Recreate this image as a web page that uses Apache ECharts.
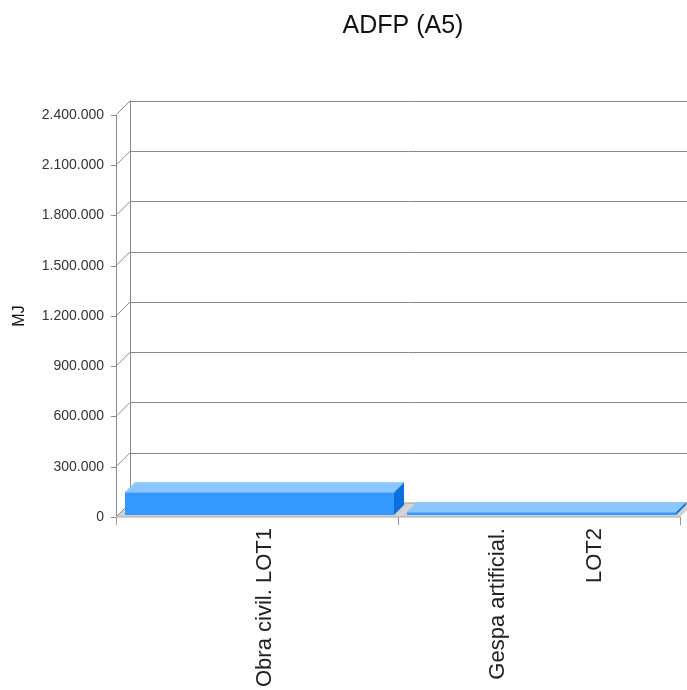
<!DOCTYPE html>
<html>
<head>
<meta charset="utf-8">
<script src="https://cdn.jsdelivr.net/npm/echarts@6/dist/echarts.min.js"></script>
<style>
  html, body { margin: 0; padding: 0; background: #fff; }
  #chart { width: 687px; height: 690px; }
</style>
</head>
<body>
<div id="chart"></div>
<script>
// datos del gráfico
const categories = ['Obra civil. LOT1', 'Gespa artificial.\nLOT2']
const values = [135000, 15000]
const yTickValues = [0, 300000, 600000, 900000, 1200000, 1500000, 1800000, 2100000, 2400000]

const yMax = 2400000
const yStep = 300000
const depth = 14 // profundidad de la pared de fondo
const barDepth = 10

const fmt = (v) => String(v).replace(/\B(?=(\d{3})+(?!\d))/g, '.')

const chart = echarts.init(document.getElementById('chart'))

// suelo gris bajo las barras
const renderFloor = (params, api) => {
  const c = api.coord([api.value(0), 0])
  const bw = api.size([1, 0])[0]
  const x0 = c[0] - bw / 2
  const x1 = c[0] + bw / 2
  const y = c[1]
  return {
    type: 'group',
    children: [
      {
        type: 'polygon',
        shape: { points: [[x0, y], [x1, y], [x1 + depth, y - depth], [x0 + depth, y - depth]] },
        style: { fill: '#d2d2d2', stroke: null }
      },
      {
        type: 'line',
        shape: { x1: x0 + depth, y1: y - depth, x2: x1 + depth, y2: y - depth },
        style: { stroke: '#999', lineWidth: 1 }
      },
      {
        type: 'line',
        shape: { x1: x0, y1: y, x2: x1, y2: y },
        style: { stroke: '#aaa', lineWidth: 1 }
      }
    ]
  }
}

// líneas diagonales del eje Y hacia la pared
const renderConnector = (params, api) => {
  const p = api.coord([0, api.value(0)])
  const bw = api.size([1, 0])[0]
  const x = p[0] - bw / 2
  const y = p[1]
  return {
    type: 'line',
    shape: { x1: x + 1, y1: y - 1, x2: x + depth, y2: y - depth },
    style: { stroke: '#888', lineWidth: 1 }
  }
}

// barras en 3D
const renderBar = (params, api) => {
  const i = api.value(0)
  const base = api.coord([i, 0])
  const top = api.coord([i, api.value(1)])
  const bw = api.size([1, 0])[0]
  const x0 = base[0] - bw / 2 + 9
  const x1 = base[0] + bw / 2 - 4
  const yb = base[1] - 2
  const yt = top[1] - 2
  const d = barDepth
  return {
    type: 'group',
    children: [
      {
        type: 'polygon',
        shape: { points: [[x0, yt], [x1, yt], [x1 + d, yt - d], [x0 + d, yt - d]] },
        style: { fill: '#8cc6ff', stroke: '#7ab8f5', lineWidth: 0.5 }
      },
      {
        type: 'polygon',
        shape: { points: [[x1, yt], [x1 + d, yt - d], [x1 + d, yb - d], [x1, yb]] },
        style: { fill: '#0a6fe0' }
      },
      {
        type: 'rect',
        shape: { x: x0, y: yt, width: x1 - x0, height: yb - yt },
        style: { fill: '#3399ff' }
      }
    ]
  }
}

const option = {
  backgroundColor: '#fff',
  title: {
    text: 'ADFP (A5)',
    left: 398,
    textAlign: 'center',
    top: 9,
    textStyle: { fontFamily: 'Liberation Sans', fontSize: 25, fontWeight: 'normal', color: '#111' }
  },
  grid: [
    { left: 116, top: 115, width: 564, height: 402 },
    { left: 116 + depth, top: 115 - depth, width: 564, height: 402 },
    // rejilla solo para las etiquetas del eje X (centradas en la barra en 3D)
    { left: 124, top: 115, width: 564, height: 402 }
  ],
  xAxis: [
    {
      type: 'category',
      gridIndex: 0,
      data: categories,
      axisLine: { show: false },
      axisTick: { show: true, length: 8, lineStyle: { color: '#999' } },
      axisLabel: { show: false }
    },
    {
      type: 'category',
      gridIndex: 1,
      data: categories,
      show: false
    },
    {
      type: 'category',
      gridIndex: 2,
      data: categories,
      axisLine: { show: false },
      axisTick: { show: false },
      axisLabel: {
        rotate: 90,
        margin: 13,
        fontFamily: 'Liberation Sans',
        fontSize: 22,
        color: '#222',
        lineHeight: 97
      }
    }
  ],
  yAxis: [
    {
      type: 'value',
      gridIndex: 0,
      min: 0,
      max: yMax,
      interval: yStep,
      name: 'MJ',
      nameLocation: 'middle',
      nameGap: 88,
      nameTextStyle: { fontFamily: 'Liberation Sans', fontSize: 16, color: '#111' },
      axisLine: { show: true, lineStyle: { color: '#888' } },
      axisTick: { show: true, length: 5, lineStyle: { color: '#888' } },
      axisLabel: {
        margin: 12,
        fontFamily: 'Liberation Sans',
        fontSize: 14,
        color: '#333',
        formatter: fmt
      },
      splitLine: { show: false }
    },
    {
      type: 'value',
      gridIndex: 1,
      min: 0,
      max: yMax,
      interval: yStep,
      axisLine: { show: true, lineStyle: { color: '#888' } },
      axisTick: { show: false },
      axisLabel: { show: false },
      splitLine: { show: true, lineStyle: { color: '#888', width: 1 } }
    },
    {
      type: 'value',
      gridIndex: 2,
      min: 0,
      max: yMax,
      interval: yStep,
      show: false
    }
  ],
  series: [
    {
      type: 'custom',
      name: 'suelo',
      xAxisIndex: 0,
      yAxisIndex: 0,
      renderItem: renderFloor,
      data: categories.map((c, i) => [i]),
      z: 1,
      silent: true
    },
    {
      type: 'custom',
      name: 'guias',
      xAxisIndex: 0,
      yAxisIndex: 0,
      renderItem: renderConnector,
      data: yTickValues.map((v) => [v]),
      encode: { y: 0 },
      z: 1,
      silent: true
    },
    {
      type: 'custom',
      name: 'MJ',
      xAxisIndex: 0,
      yAxisIndex: 0,
      renderItem: renderBar,
      data: values.map((v, i) => [i, v]),
      z: 3
    }
  ]
}

chart.setOption(option)
window.addEventListener('resize', () => {
  chart.resize()
})
</script>
</body>
</html>
